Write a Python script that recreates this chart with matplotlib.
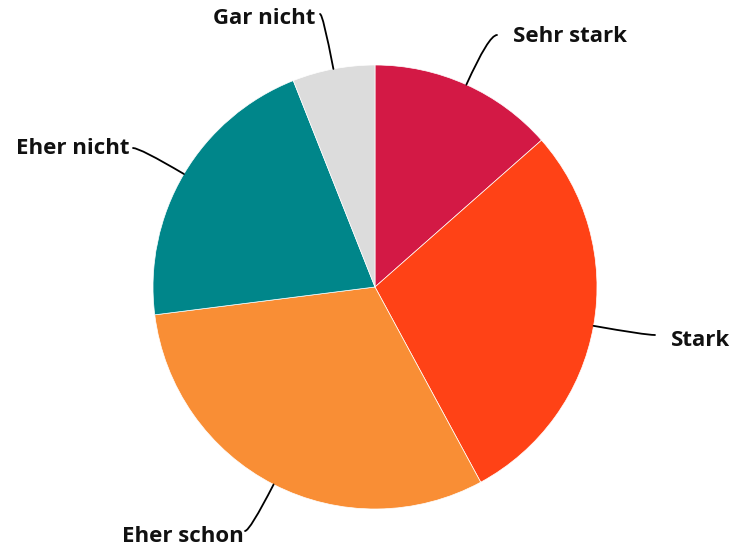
import numpy as np
import matplotlib.pyplot as plt

# answer shares (percent), clockwise from 12 o'clock
labels = ["Sehr stark", "Stark", "Eher schon", "Eher nicht", "Gar nicht"]
values = [13.5, 28.6, 30.9, 21.0, 6.0]
colors = ["#D31945", "#FF4216", "#F98E35", "#00868A", "#DCDCDC"]

W, H = 733, 552
fig = plt.figure(figsize=(W / 100, H / 100), dpi=100)
ax = fig.add_axes([0, 0, 1, 1])

cx, cy, r = 375, H - 287, 222
wedges, _ = ax.pie(values, colors=colors, startangle=90, counterclock=False,
                   center=(cx, cy), radius=r, frame=True,
                   wedgeprops=dict(edgecolor="white", linewidth=0.5))
ax.set_xlim(0, W)
ax.set_ylim(0, H)
ax.set_aspect("equal")
ax.axis("off")

# label placement: (text x, text y, line end x, line end y)
place = {
    "Sehr stark": (513, H - 37, 497, H - 35),
    "Stark": (671, H - 340, 655, H - 335),
    "Eher schon": (122, H - 537, 245, H - 531),
    "Eher nicht": (16, H - 148, 133, H - 148),
    "Gar nicht": (213, H - 18, 320, H - 14),
}

for w, lab in zip(wedges, labels):
    mid = np.deg2rad((w.theta1 + w.theta2) / 2)
    ex, ey = cx + r * np.cos(mid), cy + r * np.sin(mid)
    tx, ty, lx, ly = place[lab]
    ax.annotate("", xy=(ex, ey), xytext=(lx, ly),
                arrowprops=dict(arrowstyle="-", color="black", lw=1.3,
                                shrinkA=0, shrinkB=0,
                                connectionstyle="angle3,angleA=0,angleB=%.1f"
                                % np.rad2deg(mid)))
    ax.text(tx, ty, lab, ha="left", va="center", fontsize=16, fontweight="bold",
            family="Open Sans", color="#111111")

fig.savefig("out.png", dpi=100)
